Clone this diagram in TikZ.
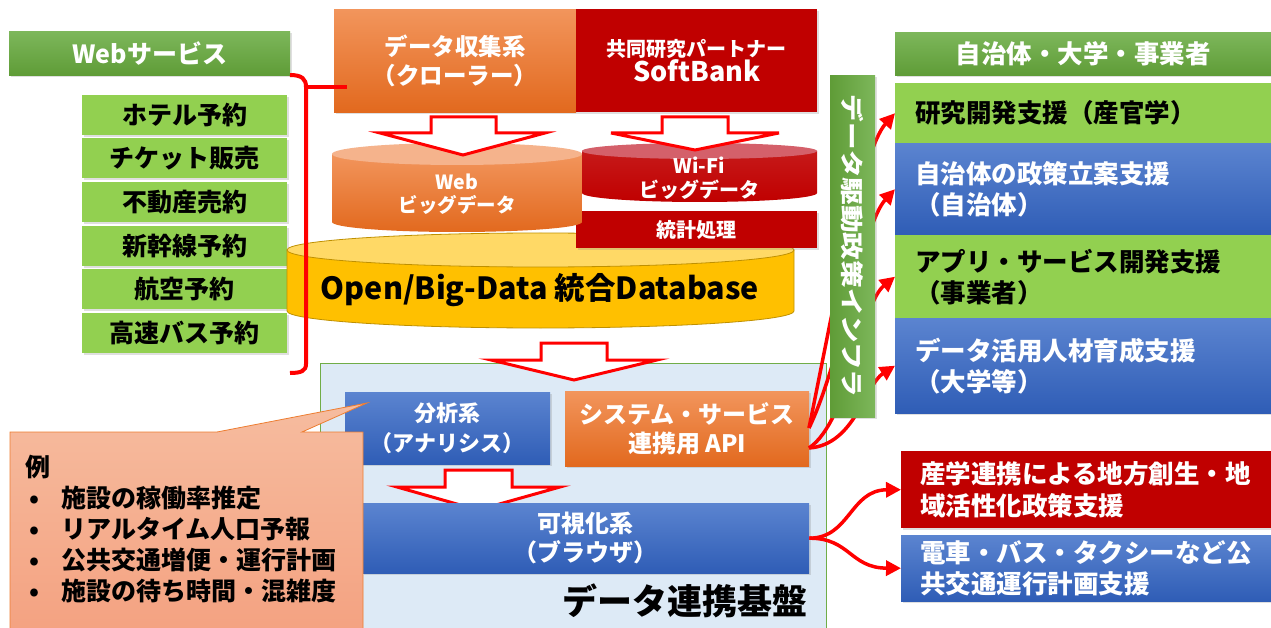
\documentclass[tikz,border=0pt]{standalone}
\usepackage{fontspec}
\setmainfont{Noto Sans CJK JP}
\usetikzlibrary{arrows.meta,shadows}
\definecolor{dred}{HTML}{C00000}
\definecolor{lgr}{HTML}{92D050}
\definecolor{ghTop}{HTML}{7DB75B}
\definecolor{ghBot}{HTML}{5F9C37}
\definecolor{blTop}{HTML}{5B84D0}
\definecolor{blBot}{HTML}{2F5DB6}
\definecolor{orTop}{HTML}{F2955C}
\definecolor{orBot}{HTML}{E2691E}
\definecolor{wcTop}{HTML}{F5B38C}
\definecolor{wfTop}{HTML}{D4606A}
\definecolor{dbBody}{HTML}{FFC000}
\definecolor{dbTop}{HTML}{FFD966}
\definecolor{dbLine}{HTML}{BF9000}
\definecolor{cont}{HTML}{DDEAF6}
\definecolor{contLine}{HTML}{70AD47}
\definecolor{caTop}{HTML}{F6BC9F}
\definecolor{caBot}{HTML}{F4A180}
\definecolor{caLine}{HTML}{ED7D31}
\definecolor{rline}{HTML}{FF0000}
\newcommand{\setfs}[2]{\fontsize{#1}{#2}\selectfont}
\tikzset{
  myshadow/.style={drop shadow={opacity=0.25,shadow xshift=1.5pt,shadow yshift=-2pt}},
  gbox/.style={anchor=north west, inner sep=0pt, myshadow, top color=ghTop, bottom color=ghBot, text=white},
  lbox/.style={anchor=north west, inner sep=0pt, myshadow, fill=lgr, text=black},
  bbox/.style={anchor=north west, inner sep=0pt, myshadow, top color=blTop, bottom color=blBot, text=white},
  obox/.style={anchor=north west, inner sep=0pt, myshadow, top color=orTop, bottom color=orBot, text=white},
  rbox/.style={anchor=north west, inner sep=0pt, myshadow, fill=dred, text=white},
  rside/.style={minimum width=376pt, text width=336pt, inner xsep=20pt, align=left, font=\setfs{25.5}{31}\bfseries},
  lside/.style={minimum width=205pt, minimum height=40pt, font=\setfs{25}{25}\bfseries},
  blockarr/.style={draw=rline, fill=white, line width=3pt, line join=miter},
  redarr/.style={draw=rline, line width=3.5pt, -{Triangle[length=15pt,width=15pt]}},
  brace/.style={draw=rline, line width=4pt},
}
\begin{document}
\begin{tikzpicture}[x=1pt,y=-1pt]
\useasboundingbox (0,0) rectangle (1271,628);

% ---------- left: web services ----------
\node[gbox, minimum width=281pt, minimum height=44pt, font=\setfs{25}{25}\bfseries] (webhead) at (9,31) {Webサービス};
\node[lbox, lside] (l1) at (82,95) {ホテル予約};
\node[lbox, lside] (l2) at (82,138) {チケット販売};
\node[lbox, lside] (l3) at (82,182) {不動産売約};
\node[lbox, lside] (l4) at (82,226) {新幹線予約};
\node[lbox, lside] (l5) at (82,269) {航空予約};
\node[lbox, lside] (l6) at (82,313) {高速バス予約};

% ---------- top boxes ----------
\node[obox, minimum width=242pt, minimum height=103pt, align=center, font=\setfs{23.5}{29}\bfseries] (crawler) at (334,9) {データ収集系\\（クローラー）};
\node[rbox, minimum width=241pt, minimum height=103pt, align=center, font=\bfseries] (sb) at (576,9) {{\setfs{20}{29}共同研究パートナー}\\{\setfs{27}{29}SoftBank}};

% ---------- database cylinder ----------
\path[fill=dbBody, draw=dbLine, line width=0.8pt] (287,250) -- (287,311) .. controls (287,320.4) and (400.5,328) .. (540.5,328) .. controls (680.5,328) and (794,320.4) .. (794,311) -- (794,250) -- cycle;
\path[fill=dbTop, draw=dbLine, line width=0.8pt] (540.5,250) ellipse [x radius=253.5, y radius=17];
\node[font=\setfs{30.5}{30.5}\bfseries, text=black] (db) at (540,290) {Open/Big-Data 統合Database};

% ---------- statistics box ----------
\node[rbox, minimum width=241pt, minimum height=37pt, font=\setfs{20}{20}\bfseries] (stat) at (576,211) {統計処理};

% ---------- Wi-Fi cylinder ----------
\path[top color=dred!90!white, bottom color=dred, draw=none] (582,151) -- (582,193) .. controls (582,198) and (634.6,202) .. (699.5,202) .. controls (764.4,202) and (817,198) .. (817,193) -- (817,151) -- cycle;
\path[fill=wfTop] (699.5,151) ellipse [x radius=117.5, y radius=8];
\node[align=center, text=white, font=\setfs{20}{24}\bfseries] (wifi) at (699,178) {Wi-Fi\\ビッグデータ};

% ---------- Web cylinder ----------
\path[top color=orTop, bottom color=orBot] (332,154) -- (332,222) .. controls (332,227.5) and (388,232) .. (457,232) .. controls (526,232) and (582,227.5) .. (582,222) -- (582,154) -- cycle;
\path[fill=wcTop] (457,154) ellipse [x radius=125, y radius=11];
\node[align=center, text=white, font=\setfs{19.5}{23}\bfseries] (webbig) at (457,194) {Web\\ビッグデータ};

% ---------- block arrows (top) ----------
\path[blockarr] (431,117) -- (496,117) -- (496,133) -- (545,133) -- (463,155) -- (380,133) -- (431,133) -- cycle;
\path[blockarr] (662,117) -- (728,117) -- (728,133) -- (779,133) -- (695,150) -- (611,133) -- (662,133) -- cycle;

% ---------- brace ----------
\path[brace] (290,75) .. controls (302,75) and (306,79) .. (306,87) -- (306,364) .. controls (306,371) and (301,373) .. (290,373);
\path[brace] (306,87) -- (347,87);

% ---------- data platform ----------
\node[anchor=north west, inner sep=0pt, fill=cont, draw=contLine, line width=0.8pt, minimum width=506pt, minimum height=277pt] (platform) at (320,363) {};
\node[anchor=east, font=\setfs{35}{35}\bfseries, text=black] (platlabel) at (811,601) {データ連携基盤};
\path[blockarr] (541,343) -- (607,343) -- (607,360) -- (657,360) -- (574,380) -- (491,360) -- (541,360) -- cycle;

\node[bbox, minimum width=205pt, minimum height=72pt, align=center, font=\setfs{22}{30}\bfseries] (ana) at (345,392) {分析系\\（アナリシス）};
\node[obox, minimum width=244pt, minimum height=75pt, align=center, font=\setfs{24}{29}\bfseries] (api) at (565,391) {システム・サービス\\連携用 API};
\path[blockarr] (445,470) -- (512,470) -- (512,487) -- (560,487) -- (478,510) -- (397,487) -- (445,487) -- cycle;
\node[bbox, minimum width=447pt, minimum height=70pt, align=center, font=\setfs{24}{29}\bfseries] (vis) at (362,503) {可視化系\\（ブラウザ）};

% ---------- callout ----------
\path[top color=caTop, bottom color=caBot, draw=caLine, line width=0.8pt] (10,432) -- (217,432) -- (367,403) -- (302,432) -- (363,432) -- (363,640) -- (10,640) -- cycle;
\node[anchor=west, align=left, text=black, font=\setfs{25}{31}\bfseries] (example) at (22,529) {例\\
\makebox[36pt][l]{\hspace{4pt}•}施設の稼働率推定\\
\makebox[36pt][l]{\hspace{4pt}•}リアルタイム人口予報\\
\makebox[36pt][l]{\hspace{4pt}•}公共交通増便・運行計画\\
\makebox[36pt][l]{\hspace{4pt}•}施設の待ち時間・混雑度};

% ---------- right side ----------
\node[gbox, minimum width=376pt, minimum height=43pt, font=\setfs{25.5}{25.5}\bfseries] (righthead) at (895,32) {自治体・大学・事業者};
\node[lbox, rside, minimum height=60pt] (b1) at (895,83) {研究開発支援（産官学）};
\node[bbox, rside, minimum height=92pt] (b2) at (895,143) {自治体の政策立案支援\\（自治体）};
\node[lbox, rside, minimum height=83pt] (b3) at (895,235) {アプリ・サービス開発支援\\（事業者）};
\node[bbox, rside, minimum height=95pt] (b4) at (895,318) {データ活用人材育成支援\\（大学等）};

\coordinate (apiA) at (809,428);
\coordinate (apiB) at (809,448);
\draw[redarr] (apiA) .. controls (835,300) and (862,150) .. (b1.west);
\draw[redarr] (apiA) .. controls (842,360) and (862,225) .. (b2.west);
\draw[redarr] (apiB) .. controls (850,420) and (860,305) .. (b3.west);
\draw[redarr] (apiB) .. controls (855,445) and (865,385) .. (b4.west);

\node[anchor=north west, inner sep=0pt, myshadow, left color=ghBot, right color=ghTop, minimum width=45pt, minimum height=342pt] (bar) at (830,75) {};
\node[rotate=-90, text=white, font=\setfs{23}{23}\bfseries] (bartext) at (bar.center) {\scalebox{1.2}[1]{データ駆動政策インフラ}};

\node[rbox, minimum width=370pt, text width=332pt, inner xsep=19pt, align=left, minimum height=77pt, font=\setfs{25.5}{32}\bfseries] (br1) at (901,451) {産学連携による地方創生・地\\域活性化政策支援};
\node[bbox, minimum width=370pt, text width=332pt, inner xsep=19pt, align=left, minimum height=66pt, font=\setfs{25.5}{31}\bfseries] (br2) at (901,535) {電車・バス・タクシーなど公\\共交通運行計画支援};
\draw[redarr] (vis.east) .. controls (850,538) and (850,490) .. (br1.west);
\draw[redarr] (vis.east) .. controls (850,538) and (850,568) .. (br2.west);
\end{tikzpicture}
\end{document}
